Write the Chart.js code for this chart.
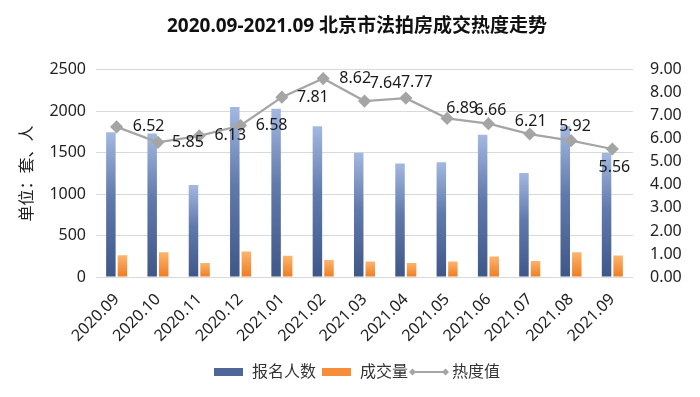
<!DOCTYPE html>
<html>
<head>
<meta charset="utf-8">
<script src="https://cdn.jsdelivr.net/npm/chart.js@4.4.0/dist/chart.umd.min.js"></script>
<style>
  html, body { margin: 0; padding: 0; background: #fff; }
  #wrap { width: 700px; height: 397px; }
</style>
</head>
<body>
<div id="wrap"><canvas id="hotChart"></canvas></div>
<script>
const months = ['2020.09', '2020.10', '2020.11', '2020.12', '2021.01', '2021.02', '2021.03',
  '2021.04', '2021.05', '2021.06', '2021.07', '2021.08', '2021.09'];
const signups = [1745, 1730, 1110, 2050, 2030, 1820, 1500, 1370, 1385, 1715, 1255, 1820, 1495];
const deals = [263, 300, 170, 307, 255, 206, 186, 170, 186, 247, 194, 299, 259];
const heat = [6.52, 5.85, 6.13, 6.58, 7.81, 8.62, 7.64, 7.77, 6.89, 6.66, 6.21, 5.92, 5.56];
const leftTicks = [0, 500, 1000, 1500, 2000, 2500];
const rightTicks = [0, 1, 2, 3, 4, 5, 6, 7, 8, 9];

// where each value label sits relative to its point (dx, dy), like in the picture
const labelOffsets = [[32, 0], [30, 0], [31, 0], [31, 0], [31, 0], [32, 0],
  [21, -18], [11, -16], [15, -10], [2, -13], [1, -13], [4, -14], [2, 18]];

const fontFamily = '"Noto Sans", "Noto Sans CJK SC", sans-serif';

// gradient for each bar, light at the top and darker at the bottom
function barGradient(stops, fallback) {
  return function (context) {
    const chart = context.chart;
    if (!chart.chartArea || context.raw === undefined) return fallback;
    const yScale = chart.scales.y;
    const top = yScale.getPixelForValue(context.raw);
    const base = yScale.getPixelForValue(0);
    if (!isFinite(top) || !isFinite(base) || top === base) return fallback;
    const g = chart.ctx.createLinearGradient(0, top, 0, base);
    stops.forEach(function (s) { g.addColorStop(s[0], s[1]); });
    return g;
  };
}

function legendImage(kind, color) {
  const c = document.createElement('canvas');
  const w = kind === 'line' ? 40 : 29;
  const h = 10;
  c.width = w;
  c.height = h;
  const g = c.getContext('2d');
  if (kind === 'line') {
    g.strokeStyle = color;
    g.lineWidth = 2;
    g.beginPath();
    g.moveTo(3, 5);
    g.lineTo(w - 3, 5);
    g.stroke();
    g.fillStyle = color;
    [3.5, w - 3.5].forEach(function (x) {
      g.beginPath();
      g.moveTo(x, 1.5);
      g.lineTo(x + 3.5, 5);
      g.lineTo(x, 8.5);
      g.lineTo(x - 3.5, 5);
      g.closePath();
      g.fill();
    });
  } else {
    g.fillStyle = color;
    g.fillRect(0, 1, w, 8);
  }
  return c;
}

const valueLabels = {
  id: 'valueLabels',
  afterDatasetsDraw(chart) {
    const meta = chart.getDatasetMeta(2);
    const ctx = chart.ctx;
    ctx.save();
    ctx.font = '16px ' + fontFamily;
    ctx.fillStyle = '#1a1a1a';
    ctx.textAlign = 'center';
    ctx.textBaseline = 'middle';
    meta.data.forEach(function (pt, i) {
      const off = labelOffsets[i];
      ctx.fillText(heat[i].toFixed(2), pt.x + off[0], pt.y + off[1]);
    });
    ctx.restore();
  }
};

const ctx = document.getElementById('hotChart');

new Chart(ctx, {
  type: 'bar',
  data: {
    labels: months,
    datasets: [{
      label: '报名人数',
      data: signups,
      yAxisID: 'y',
      order: 1,
      backgroundColor: barGradient([[0, '#a3b8e1'], [0.45, '#617aac'], [1, '#3f5688']], '#4f6699'),
      categoryPercentage: 0.56,
      barPercentage: 0.82
    }, {
      label: '成交量',
      data: deals,
      yAxisID: 'y',
      order: 1,
      backgroundColor: barGradient([[0, '#fbb56e'], [1, '#ef7c22']], '#f58d3a'),
      categoryPercentage: 0.56,
      barPercentage: 0.82
    }, {
      type: 'line',
      label: '热度值',
      data: heat,
      yAxisID: 'y1',
      order: 0,
      borderColor: '#a5a5a5',
      backgroundColor: '#a5a5a5',
      borderWidth: 2.25,
      pointStyle: 'rectRot',
      pointRadius: 5,
      pointBackgroundColor: '#a5a5a5',
      pointBorderColor: '#a5a5a5',
      tension: 0
    }]
  },
  options: {
    responsive: true,
    maintainAspectRatio: false,
    animation: false,
    layout: { padding: { left: 14, right: 0, top: 0, bottom: 7 } },
    plugins: {
      tooltip: { enabled: false },
      title: {
        display: true,
        text: '2020.09-2021.09 北京市法拍房成交热度走势',
        color: '#111',
        font: { family: fontFamily, size: 19, weight: 'bold' },
        padding: { top: 15, bottom: 32 }
      },
      legend: {
        position: 'bottom',
        labels: {
          usePointStyle: true,
          pointStyleWidth: 30,
          boxHeight: 10,
          padding: 6,
          color: '#333',
          font: { family: fontFamily, size: 16 },
          sort: function (a, b) { return a.datasetIndex - b.datasetIndex; },
          generateLabels: function (chart) {
            const colors = ['#4f6699', '#f58d3a', '#a5a5a5'];
            const kinds = ['bar', 'bar', 'line'];
            return chart.data.datasets.map(function (ds, i) {
              return {
                text: ds.label,
                datasetIndex: i,
                pointStyle: legendImage(kinds[i], colors[i]),
                fillStyle: colors[i],
                strokeStyle: colors[i],
                lineWidth: 0,
                fontColor: '#333',
                hidden: false
              };
            });
          }
        }
      }
    },
    scales: {
      x: {
        grid: { display: false },
        border: { display: false },
        ticks: {
          color: '#222',
          font: { family: fontFamily, size: 16 },
          minRotation: 45,
          maxRotation: 45,
          padding: 5
        },
        afterFit: function (scale) { scale.height = 81; }
      },
      y: {
        position: 'left',
        min: 0,
        max: 2500,
        afterBuildTicks: function (scale) {
          scale.ticks = leftTicks.map(function (v) { return { value: v }; });
        },
        grid: { color: '#d9d9d9', lineWidth: 1, drawTicks: false },
        border: { display: false },
        ticks: {
          color: '#222',
          padding: 10,
          font: { family: fontFamily, size: 16 },
          callback: function (v) { return String(v); }
        },
        title: {
          display: true,
          text: '单位：套、人',
          color: '#222',
          font: { family: fontFamily, size: 16 },
          padding: { top: 4, bottom: 0 }
        },
        afterFit: function (scale) { scale.width = 82; }
      },
      y1: {
        position: 'right',
        min: 0,
        max: 9,
        afterBuildTicks: function (scale) {
          scale.ticks = rightTicks.map(function (v) { return { value: v }; });
        },
        grid: { display: false },
        border: { display: false },
        ticks: {
          color: '#222',
          padding: 9,
          font: { family: fontFamily, size: 16 },
          callback: function (v) { return Number(v).toFixed(2); }
        },
        afterFit: function (scale) { scale.width = 67; }
      }
    }
  },
  plugins: [valueLabels]
});
</script>
</body>
</html>
